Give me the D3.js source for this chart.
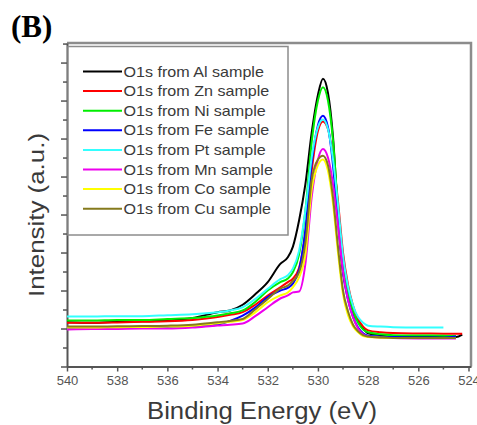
<!DOCTYPE html>
<html><head><meta charset="utf-8">
<script src="https://cdn.jsdelivr.net/npm/d3@7"></script>
<style>body{margin:0;background:#fff}svg{display:block}</style>
</head><body>
<svg id="c" width="477" height="425"></svg>
<script>
const energies = [540, 539, 538, 537, 536, 535, 534, 533.5, 533, 532.5, 532, 531.5, 531.2, 531, 530.75, 530.5, 530.25, 530, 529.8, 529.6, 529.4, 529.2, 529, 528.8, 528.6, 528.4, 528.2, 528, 527.5, 527, 526, 525, 524.5, 524.25];
const alValues = [2.33, 2.3, 2.35, 2.38, 2.42, 2.55, 2.86, 2.95, 3.25, 3.8, 4.44, 5.4, 5.75, 6.3, 7.7, 9.6, 12.3, 14.3, 15.15, 14.4, 12.1, 8.0, 5.0, 3.8, 2.8, 2.4, 2.0, 1.75, 1.65, 1.6, 1.58, 1.57, 1.55, 1.68];
const znValues = [2.3, 2.3, 2.32, 2.35, 2.38, 2.45, 2.6, 2.72, 2.86, 3.25, 3.74, 4.17, 4.44, 4.63, 5.2, 7.0, 10.3, 12.4, 12.9, 12.5, 11.0, 8.7, 6.0, 4.3, 3.2, 2.5, 2.1, 1.9, 1.8, 1.76, 1.74, 1.73, 1.72, 1.72];
const niValues = [2.42, 2.42, 2.45, 2.45, 2.5, 2.55, 2.68, 2.8, 2.95, 3.4, 4.0, 4.44, 4.63, 4.96, 5.9, 8.2, 11.8, 14.0, 14.7, 14.0, 11.9, 8.3, 5.3, 3.9, 2.9, 2.3, 1.95, 1.8, 1.7, 1.65, 1.63, 1.62, 1.6, null];
const feValues = [2.0, 2.0, 2.02, 2.05, 2.08, 2.12, 2.2, 2.4, 2.68, 3.1, 3.65, 4.0, 4.14, 4.36, 5.1, 7.2, 10.7, 12.7, 13.2, 12.6, 10.6, 7.6, 4.9, 3.5, 2.6, 2.05, 1.75, 1.62, 1.57, 1.55, 1.53, 1.52, 1.58, null];
const ptValues = [2.63, 2.63, 2.65, 2.65, 2.7, 2.75, 2.86, 2.95, 3.12, 3.55, 4.09, 4.6, 4.8, 5.15, 6.1, 8.2, 11.0, 12.6, 13.0, 12.5, 10.9, 8.5, 5.8, 4.2, 3.2, 2.6, 2.3, 2.15, 2.1, 2.07, 2.05, 2.05, null, null];
const mnValues = [1.95, 1.97, 1.98, 2.0, 2.0, 2.05, 2.16, 2.2, 2.26, 2.65, 3.12, 3.58, 3.74, 3.9, 3.95, 5.4, 8.9, 10.9, 11.45, 11.0, 9.6, 7.4, 5.0, 3.5, 2.6, 2.0, 1.7, 1.58, 1.52, 1.5, 1.48, 1.48, 1.48, null];
const coValues = [2.05, 2.05, 2.07, 2.08, 2.1, 2.15, 2.28, 2.35, 2.45, 2.85, 3.38, 3.74, 3.9, 4.17, 4.7, 5.9, 9.3, 10.6, 10.9, 10.3, 8.6, 6.0, 3.8, 2.7, 2.1, 1.8, 1.6, 1.55, 1.52, 1.5, 1.5, 1.5, 1.5, null];
const cuValues = [2.1, 2.1, 2.12, 2.13, 2.15, 2.2, 2.33, 2.4, 2.5, 3.0, 3.55, 4.1, 4.26, 4.5, 4.96, 6.5, 9.8, 10.9, 11.1, 10.6, 8.9, 6.3, 4.0, 2.9, 2.2, 1.85, 1.65, 1.58, 1.53, 1.5, 1.5, 1.5, 1.5, null];

const seriesNames = ["O1s from Al sample", "O1s from Zn sample", "O1s from Ni sample", "O1s from Fe sample", "O1s from Pt sample", "O1s from Mn sample", "O1s from Co sample", "O1s from Cu sample"];
const seriesValues = [alValues, znValues, niValues, feValues, ptValues, mnValues, coValues, cuValues];
const seriesColors = ["#000000", "#ff0000", "#00ee00", "#0000ff", "#33ffff", "#ee00ee", "#ffff00", "#857a1c"];

const xTickValues = [540, 538, 536, 534, 532, 530, 528, 526, 524];
const xMinorTicks = [539, 537, 535, 533, 531, 529, 527, 525];
const yTickValues = d3.range(0, 18, 1);

const svg = d3.select("#c");
const L = 67, R = 471, T = 43, B = 366.5;
const x = d3.scaleLinear().domain([540, 523.9]).range([L, R]);
const y = d3.scaleLinear().domain([0, 17.03]).range([B, T]);

// frame top/right
svg.append("path").attr("d", `M${L},${T}H${R}V${B}`).attr("fill", "none")
  .attr("stroke", "#8c8c8c").attr("stroke-width", 2.5);

// x axis
const xAxis = svg.append("g").attr("transform", `translate(0,${B})`)
  .call(d3.axisBottom(x).tickValues(xTickValues).tickSize(5).tickSizeOuter(0).tickFormat(d3.format("d")));
xAxis.select(".domain").attr("stroke", "#555").attr("stroke-width", 2);
xAxis.selectAll(".tick line").attr("stroke", "#555").attr("stroke-width", 1.5);
xAxis.selectAll(".tick text").attr("font-family", "Liberation Sans, Arial, sans-serif")
  .attr("font-size", 13).attr("fill", "#555").attr("dy", "0.78em").attr("y", 8);
svg.append("g").selectAll("line").data(xMinorTicks).join("line")
  .attr("x1", d => x(d)).attr("x2", d => x(d)).attr("y1", B).attr("y2", B + 3)
  .attr("stroke", "#555").attr("stroke-width", 1.5);

// y axis
const yAxis = svg.append("g").attr("transform", `translate(${L},0)`)
  .call(d3.axisLeft(y).tickValues(yTickValues).tickSize(5).tickSizeOuter(0).tickFormat(""));
yAxis.select(".domain").attr("stroke", "#555").attr("stroke-width", 2);
yAxis.selectAll(".tick line").attr("stroke", "#555").attr("stroke-width", 1.5)
  .attr("x2", (d) => d % 2 === 0 ? -6 : -4);

// clip
svg.append("clipPath").attr("id", "plotclip").append("rect")
  .attr("x", L).attr("y", T).attr("width", R - L).attr("height", B - T);

const line = d3.line()
  .defined(d => d[1] != null)
  .x(d => x(d[0])).y(d => y(d[1]))
  .curve(d3.curveMonotoneX);

const gLines = svg.append("g").attr("clip-path", "url(#plotclip)");
seriesValues.forEach((vals, i) => {
  const pts = energies.map((e, j) => [e, vals[j]]);
  gLines.append("path").attr("d", line(pts)).attr("fill", "none")
    .attr("stroke", seriesColors[i]).attr("stroke-width", 2).attr("stroke-linejoin", "round");
});

// legend
const lg = svg.append("g");
lg.append("rect").attr("x", 68).attr("y", 46.5).attr("width", 220).attr("height", 188.5)
  .attr("fill", "#fff").attr("stroke", "#8c8c8c").attr("stroke-width", 1.5);
seriesNames.forEach((name, i) => {
  const cy = 71.5 + i * 19.6;
  lg.append("line").attr("x1", 83).attr("x2", 122).attr("y1", cy).attr("y2", cy)
    .attr("stroke", seriesColors[i]).attr("stroke-width", 2);
  lg.append("text").attr("transform", `translate(123.5,${cy + 5}) scale(1.15,1)`)
    .attr("font-family", "Liberation Sans, Arial, sans-serif").attr("font-size", 14)
    .attr("fill", "#3a3a3a").text(name);
});

// titles
svg.append("text").attr("x", 147).attr("y", 419).attr("textLength", 230).attr("lengthAdjust", "spacingAndGlyphs")
  .attr("font-family", "Liberation Sans, Arial, sans-serif").attr("font-size", 23).attr("fill", "#3a3a3a")
  .text("Binding Energy (eV)");
svg.append("text").attr("transform", "translate(44,297) rotate(-90)").attr("textLength", 164).attr("lengthAdjust", "spacingAndGlyphs")
  .attr("font-family", "Liberation Sans, Arial, sans-serif").attr("font-size", 22).attr("fill", "#3a3a3a")
  .text("Intensity (a.u.)");
svg.append("text").attr("x", 11).attr("y", 37).attr("font-family", "Liberation Serif, Times New Roman, serif")
  .attr("font-weight", "bold").attr("font-size", 31).attr("fill", "#000").text("(B)");
</script>
</body></html>
